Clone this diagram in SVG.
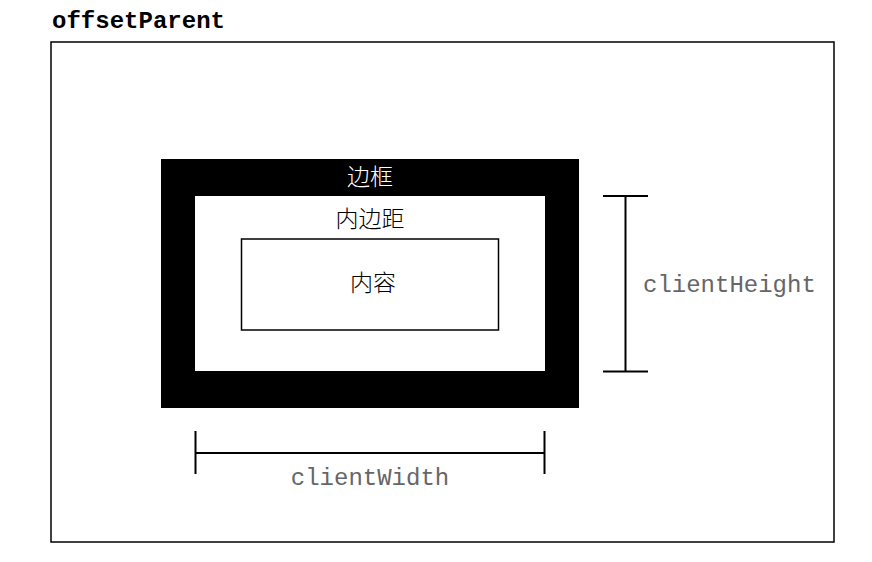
<svg xmlns="http://www.w3.org/2000/svg" width="872" height="562" viewBox="0 0 872 562">
<style>
.frame{fill:#fff;stroke:#000;stroke-width:1.5}
.cjk{font-family:"Noto Sans CJK SC","Noto Sans CJK JP",sans-serif;font-size:23px;text-anchor:middle;font-weight:300}
.mono{font-family:"Liberation Mono","Courier New",monospace;font-size:24px;fill:#666}
.dim{stroke:#000;stroke-width:2;fill:none}
</style>
<rect width="872" height="562" fill="#fff"/>
<g id="offsetParent">
<text x="52" y="28" style="font-family:'Liberation Mono','Courier New',monospace;font-size:24px;font-weight:bold" textLength="173" lengthAdjust="spacingAndGlyphs">offsetParent</text>
<rect class="frame" x="51" y="42" width="783" height="500"/>
</g>
<g id="border">
<rect x="161" y="159" width="418" height="249" fill="#000"/>
<text class="cjk" x="370" y="185" fill="#fff">边框</text>
</g>
<g id="padding">
<rect x="195" y="196" width="350" height="175" fill="#fff"/>
<text class="cjk" x="370" y="227" fill="#000">内边距</text>
</g>
<g id="content">
<rect class="frame" x="241.5" y="239" width="257" height="91"/>
<text class="cjk" x="373" y="291" fill="#000">内容</text>
</g>
<g id="connectors">
<path class="dim" d="M195.5 431V474M195.5 453H544.5M544.5 431V474"/>
<path class="dim" d="M603 196H648M625.5 196V371.5M603 371.5H648"/>
</g>
<g id="clientWidth">
<text class="mono" x="370" y="485" text-anchor="middle">clientWidth</text>
</g>
<g id="clientHeight">
<text class="mono" x="643" y="292">clientHeight</text>
</g>
</svg>
